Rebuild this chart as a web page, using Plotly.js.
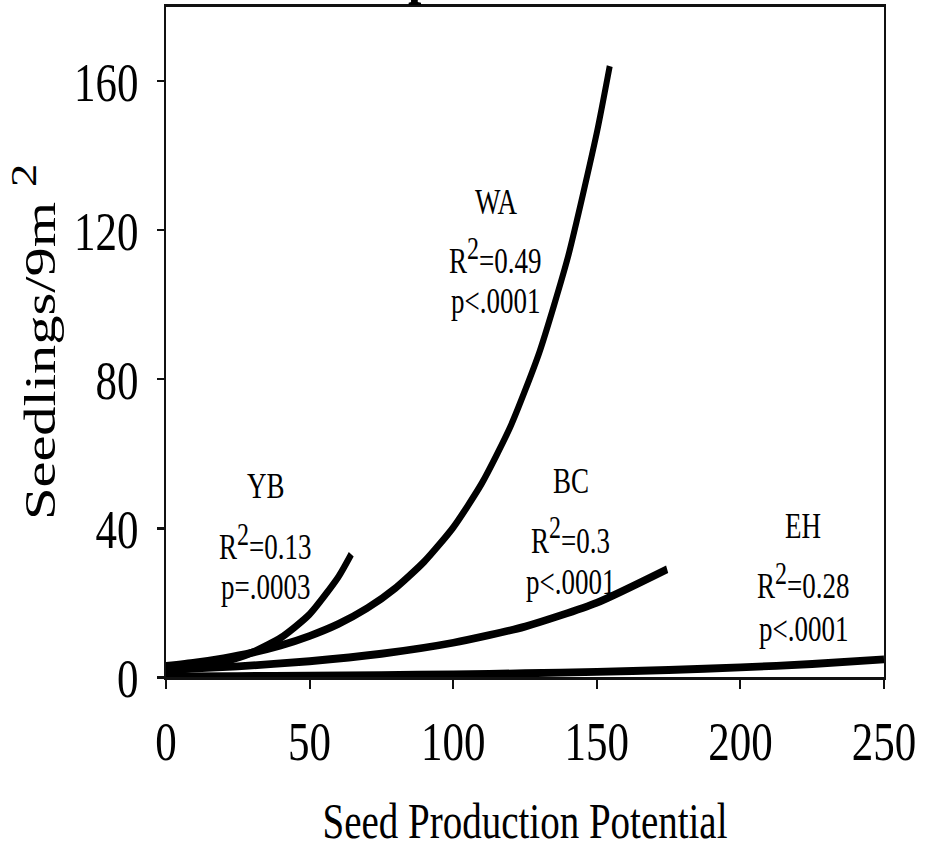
<!DOCTYPE html>
<html>
<head>
<meta charset="utf-8">
<script src="https://cdn.plot.ly/plotly-3.0.1.min.js"></script>
<style>
  html, body { margin: 0; padding: 0; width: 932px; height: 851px; overflow: hidden; background: #fff; }
  /* the figure is drawn on a shorter canvas and stretched to full height */
  #chart { width: 932px; height: 655px; transform: scaleY(1.3); transform-origin: 0 0; }
</style>
</head>
<body>
<div id="chart"></div>
<script>
// Fitted seedling curves against seed production potential, per species
const xYB = [0, 10, 20, 30, 40, 50, 60, 64.5];
const yYB = [1.64, 2.61, 4.17, 6.64, 10.6, 16.9, 26.9, 33.0];

const xWA = [0, 10, 20, 30, 40, 50, 60, 70, 80, 90, 100, 110, 120, 130, 140, 150, 154.5];
const yWA = [3.05, 3.95, 5.11, 6.61, 8.56, 11.1, 14.3, 18.5, 24.0, 31.1, 40.2, 52.1, 67.4, 87.2, 112.9, 146.1, 164];

const xBC = [0, 25, 50, 75, 100, 125, 150, 174.5];
const yBC = [2.0, 2.93, 4.31, 6.32, 9.27, 13.6, 20.0, 29.0];

const xEH = [0, 25, 50, 75, 100, 125, 150, 175, 200, 225, 250];
const yEH = [0.24, 0.32, 0.44, 0.59, 0.80, 1.08, 1.45, 1.96, 2.65, 3.57, 4.8];

const xTicks = [0, 50, 100, 150, 200, 250];
const yTicks = [0, 40, 80, 120, 160];

// species label blocks: name, fit statistics, label anchor
const labels = [
  { name: 'YB', r2: '0.13', p: 'p=.0003', x: 34.8, y: [51.3, 36.2, 24.2] },
  { name: 'WA', r2: '0.49', p: 'p<.0001', x: 114.9, y: [127.5, 113.0, 100.9] },
  { name: 'BC', r2: '0.3',  p: 'p<.0001', x: 141.0, y: [52.6, 37.9, 25.5] },
  { name: 'EH', r2: '0.28', p: 'p<.0001', x: 221.8, y: [40.3, 25.8, 12.9] }
];

const serif = 'Liberation Serif, Times New Roman, serif';
const lineStyle = { color: '#000', width: 6, shape: 'spline', smoothing: 0.6 };

const traces = [
  { name: 'YB', x: xYB, y: yYB },
  { name: 'WA', x: xWA, y: yWA },
  { name: 'BC', x: xBC, y: yBC },
  { name: 'EH', x: xEH, y: yEH }
].map(t => Object.assign(t, { type: 'scatter', mode: 'lines', line: lineStyle, hoverinfo: 'skip' }));

const annotations = [];
labels.forEach(l => {
  const lines = [
    l.name,
    'R<sup><span style="font-size:24px">2</span></sup>=' + l.r2,
    l.p.replace('<', '&lt;')
  ];
  lines.forEach((txt, i) => {
    annotations.push({
      xref: 'x', yref: 'y', x: l.x, y: l.y[i], text: txt,
      showarrow: false, xanchor: 'center', yanchor: 'middle',
      font: { family: serif, size: 27, color: '#000' }
    });
  });
});

// clipped heading above the frame
annotations.push({
  xref: 'paper', yref: 'paper', x: 0.3565, y: 1, xanchor: 'center', yanchor: 'bottom',
  text: '<b>p</b>', showarrow: false, font: { family: serif, size: 48, color: '#000' }
});

const axisCommon = {
  showgrid: false, zeroline: false, showline: true, mirror: true,
  linecolor: '#111', linewidth: 2,
  ticks: 'outside', ticklen: 7, tickwidth: 2, tickcolor: '#111',
  tickfont: { family: serif, size: 43, color: '#000' },
  fixedrange: true
};

const layout = {
  width: 932, height: 655,
  margin: { l: 166, r: 48, t: 5, b: 134 },
  paper_bgcolor: '#fff', plot_bgcolor: '#fff',
  showlegend: false,
  xaxis: Object.assign({}, axisCommon, {
    range: [0, 250], tickvals: xTicks, ticktext: xTicks.map(String),
    ticklabelstandoff: 3,
    title: { text: 'Seed Production Potential', font: { family: serif, size: 39, color: '#000' }, standoff: 25 }
  }),
  yaxis: Object.assign({}, axisCommon, {
    range: [0, 180], tickvals: yTicks, ticktext: yTicks.map(String),
    ticklabelstandoff: 10,
    title: {
      text: 'Seedlings/9m <sup><span style="font-size:36px">2</span></sup>',
      font: { family: serif, size: 45, color: '#000' }, standoff: 4
    }
  }),
  annotations: annotations
};

Plotly.newPlot('chart', traces, layout, { displayModeBar: false, staticPlot: true });
</script>
</body>
</html>
